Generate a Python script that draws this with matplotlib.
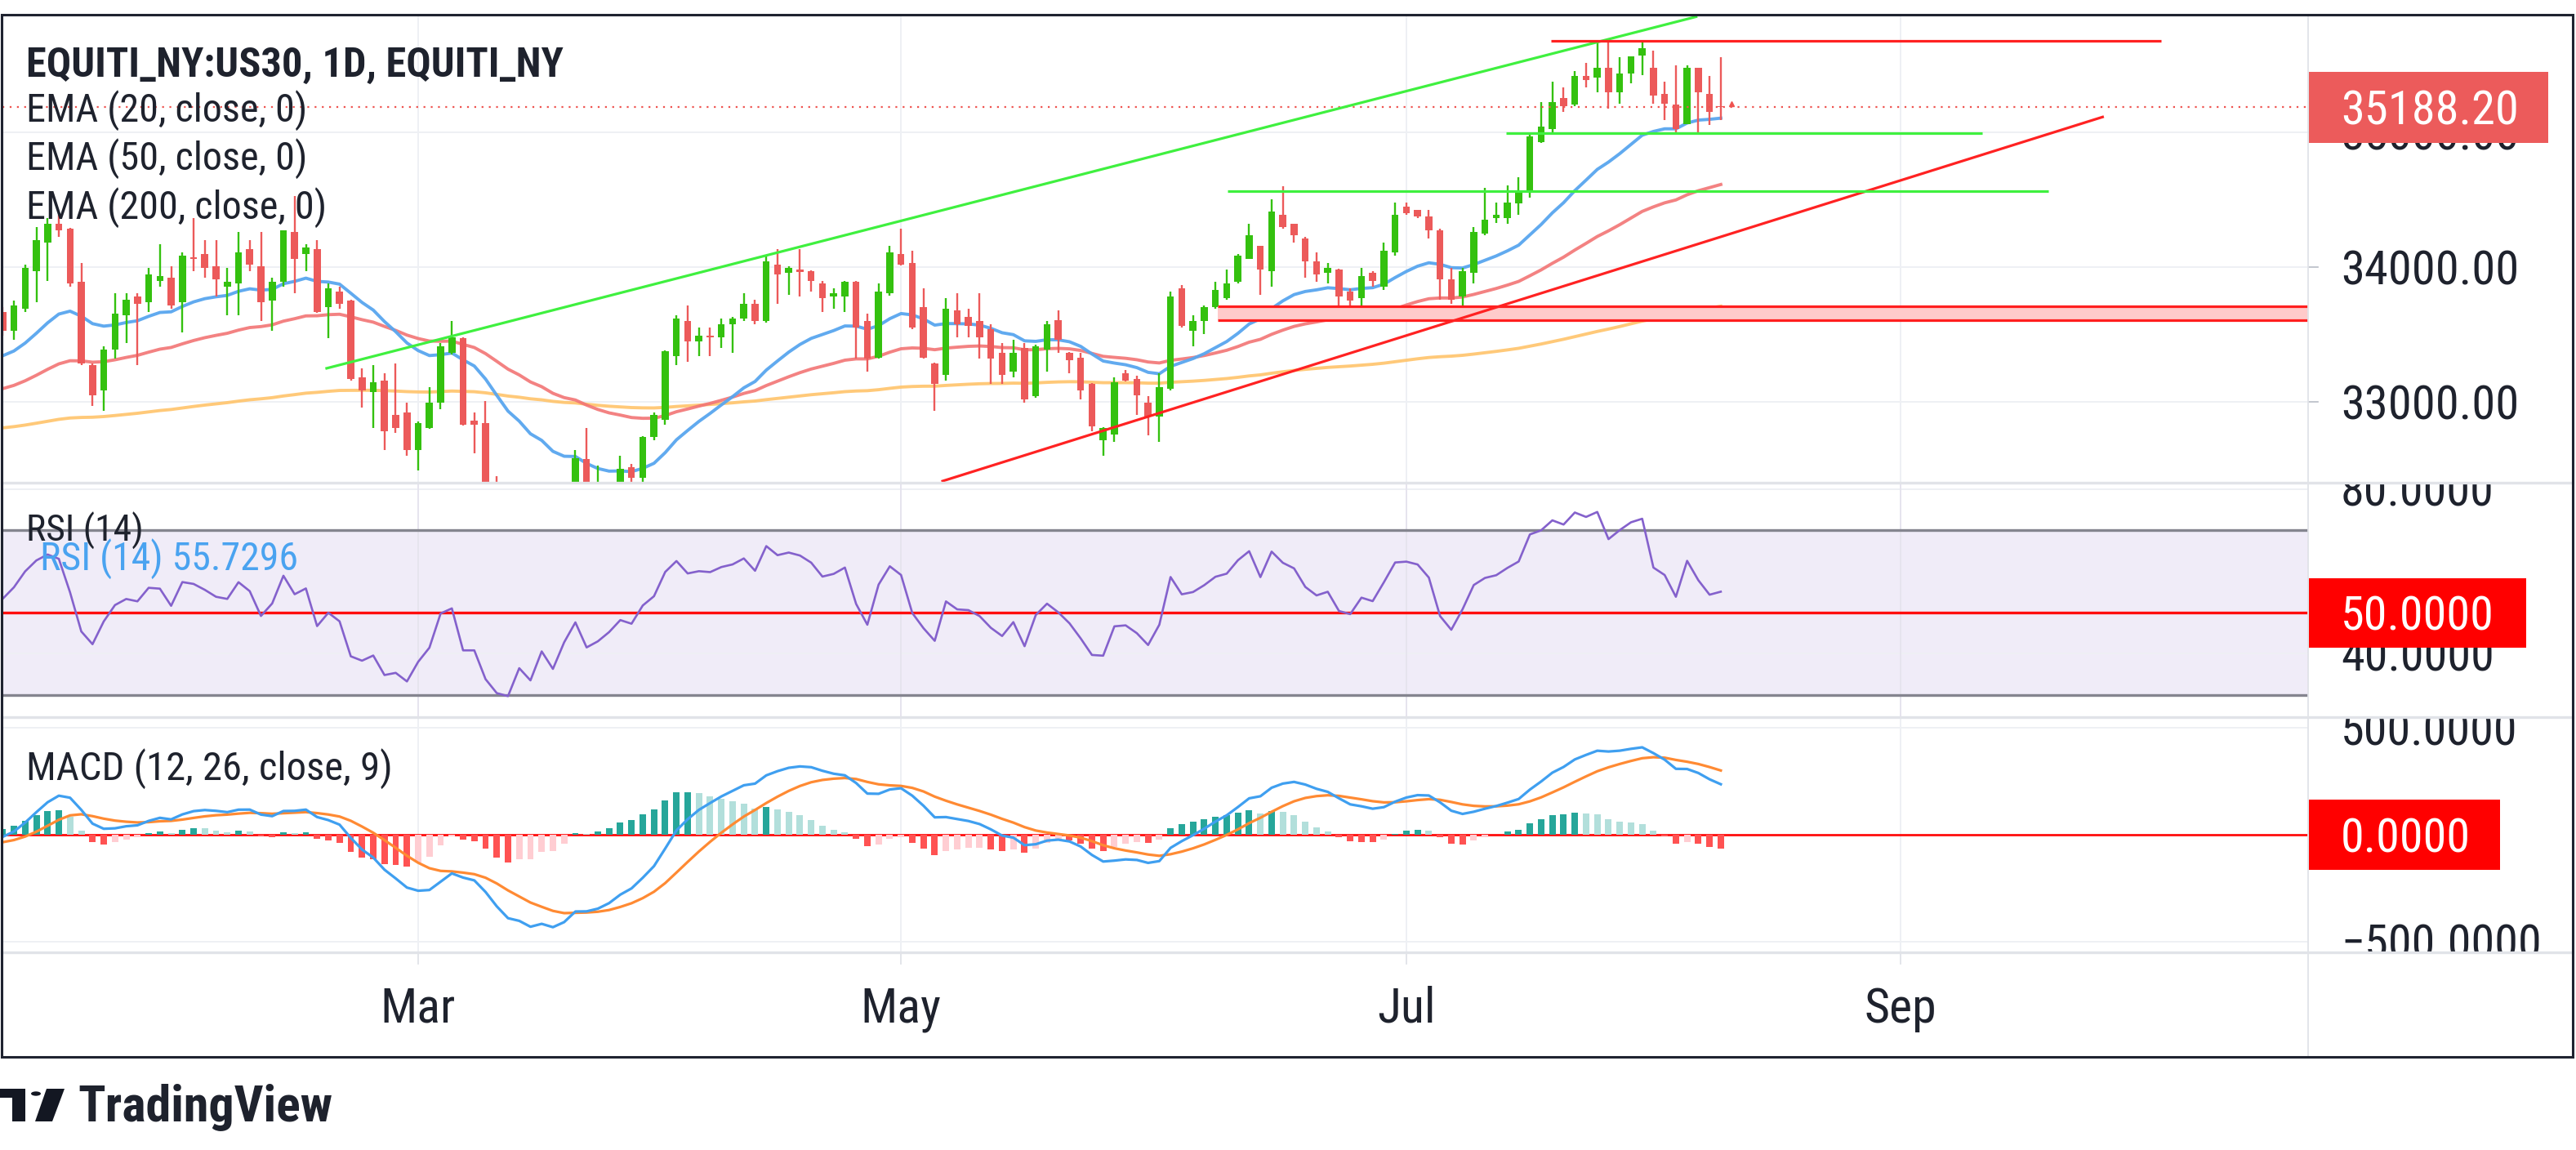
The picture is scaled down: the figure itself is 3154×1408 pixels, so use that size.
import os
import numpy as np
import pandas as pd
import matplotlib
matplotlib.use("Agg")
import matplotlib.pyplot as plt
from matplotlib.patches import Rectangle, Polygon, Circle
from matplotlib.lines import Line2D
from matplotlib import font_manager as fm
from matplotlib.font_manager import FontProperties

# ---------------------------------------------------------------- data
start_date = "2023-01-09"

opens = [
    33667, 33528, 33691, 33970, 34179, 34319, 34284, 33888, 33272, 33086,
    33388, 33644, 33784, 33737, 33900, 33923, 33737, 34074, 34098, 34005,
    33853, 33877, 34132, 34005, 33749, 33888, 34260, 34098, 34132, 33702,
    33819, 33749, 33179, 33074, 33156, 32900, 32923, 32644, 32807, 32993,
    33365, 33470, 32860, 32842, 32260, 31900, 31850, 32100, 31870, 32250,
    31900, 32250, 32575, 32050, 32150, 32300, 32516, 32435, 32737, 32865,
    33342, 33598, 33447, 33493, 33481, 33574, 33621, 33726, 33598, 34016,
    33958, 33981, 33970, 33877, 33784, 33784, 33888, 33598, 33330, 33807,
    34098, 34028, 33702, 33284, 33202, 33679, 33632, 33598, 33540, 33365,
    33226, 33400, 33040, 33388, 33609, 33365, 33330, 33133, 32714, 32760,
    33214, 33167, 32993, 32888, 33098, 33842, 33528, 33598, 33702, 33772,
    33888, 34063, 34156, 33970, 34388, 34319, 34214, 34040, 33958, 33981,
    33819, 33772, 33958, 33853, 34109, 34446, 34423, 34377, 34272, 33912,
    33784, 33958, 34249, 34365, 34365, 34470, 34563, 34930, 35024, 35255,
    35206, 35418, 35406, 35479, 35297, 35436, 35570, 35479, 35285, 35206,
    35061, 35479, 35285, 35194]

highs = [
    33702, 33749, 34016, 34295, 34365, 34388, 34290, 34028, 33284, 33412,
    33807, 33807, 33807, 33993, 34167, 34005, 34109, 34365, 34202, 34202,
    33993, 34260, 34202, 34260, 33923, 34272, 34528, 34167, 34202, 33877,
    33853, 33760, 33249, 33272, 33214, 33284, 32993, 32853, 33109, 33435,
    33598, 33481, 32923, 33005, 32450, 32300, 32360, 32150, 32300, 32300,
    32300, 32640, 32807, 32530, 32400, 32600, 32540, 32745, 32923, 33380,
    33644, 33714, 33551, 33551, 33621, 33633, 33807, 33760, 34086, 34132,
    34005, 34132, 33975, 33900, 33842, 33900, 33895, 33656, 33877, 34156,
    34284, 34121, 33842, 33290, 33772, 33807, 33691, 33807, 33574, 33435,
    33458, 33435, 33423, 33598, 33679, 33370, 33365, 33140, 32810, 33179,
    33237, 33191, 33040, 33214, 33819, 33865, 33644, 33714, 33888, 33981,
    34098, 34319, 34160, 34505, 34598, 34320, 34226, 34109, 34028, 33990,
    33842, 33993, 33970, 34179, 34481, 34481, 34425, 34423, 34284, 33993,
    33993, 34295, 34586, 34481, 34609, 34667, 34993, 35224, 35376, 35333,
    35455, 35515, 35667, 35679, 35558, 35564, 35670, 35606, 35376, 35497,
    35497, 35479, 35418, 35558]

lows = [
    33493, 33458, 33667, 33737, 33900, 34226, 33853, 33272, 32970, 32935,
    33319, 33435, 33272, 33667, 33853, 33691, 33516, 33970, 33923, 33784,
    33644, 33644, 33970, 33598, 33528, 33853, 33807, 33970, 33660, 33470,
    33691, 33156, 32958, 32807, 32644, 32772, 32598, 32493, 32800, 32946,
    33353, 32825, 32621, 32200, 31850, 31450, 31800, 31450, 31650, 31750,
    31850, 32200, 32000, 31800, 31900, 32250, 32300, 32400, 32714, 32830,
    33272, 33295, 33342, 33342, 33400, 33365, 33598, 33574, 33586, 33726,
    33795, 33784, 33819, 33667, 33691, 33667, 33319, 33225, 33319, 33790,
    34010, 33540, 33320, 32935, 33156, 33481, 33481, 33319, 33133, 33133,
    33179, 32993, 33028, 33226, 33365, 33214, 33016, 32784, 32598, 32702,
    33149, 32900, 32749, 32702, 33086, 33551, 33412, 33505, 33691, 33760,
    33877, 34060, 33795, 33853, 34284, 34179, 33923, 33888, 33877, 33621,
    33609, 33656, 33853, 33830, 34086, 34388, 34365, 34214, 33760, 33726,
    33609, 33877, 34237, 34330, 34319, 34388, 34516, 34920, 34994, 35152,
    35194, 35333, 35297, 35176, 35212, 35364, 35424, 35212, 35091, 35000,
    35061, 34994, 35055, 35091]

closes = [
    33528, 33714, 33993, 34202, 34319, 34272, 33877, 33284, 33051, 33388,
    33656, 33760, 33726, 33946, 33935, 33714, 34086, 34063, 33993, 33912,
    33888, 34109, 34016, 33737, 33888, 34272, 34063, 34144, 33667, 33842,
    33726, 33167, 33086, 33144, 32784, 32807, 32644, 32842, 32993, 33412,
    33481, 32830, 32830, 32250, 31900, 31820, 32150, 31870, 32250, 31860,
    32250, 32580, 32050, 32150, 32300, 32500, 32435, 32737, 32900, 33377,
    33621, 33447, 33493, 33481, 33574, 33621, 33726, 33598, 34040, 33946,
    33993, 33965, 33900, 33772, 33807, 33888, 33551, 33319, 33819, 34109,
    34016, 33551, 33330, 33133, 33691, 33574, 33563, 33481, 33319, 33202,
    33365, 33016, 33412, 33574, 33458, 33307, 33086, 32819, 32807, 33144,
    33156, 33051, 32888, 33109, 33784, 33563, 33598, 33702, 33830, 33877,
    34086, 34237, 33981, 34412, 34295, 34237, 34040, 33946, 33993, 33784,
    33749, 33935, 33900, 34121, 34388, 34400, 34377, 34272, 33912, 33760,
    33970, 34260, 34353, 34388, 34481, 34563, 34970, 35042, 35224, 35194,
    35418, 35388, 35479, 35297, 35436, 35564, 35624, 35273, 35212, 35024,
    35479, 35297, 35152, 35188.2]

last_price = 35188.20
rsi_legend_value = "55.7296"

ema20_seed, ema50_seed, ema200_seed = 33342, 33098, 32807
macd_fast_seed, macd_slow_seed, macd_signal_seed = 33410, 33420, -35
rsi_gain_seed, rsi_loss_seed = 120, 105

# drawings (bar position, price)
channel_x, channel_y = [28.85, 150.8], [33249, 35858]
rising_x, rising_y = [83.7, 187.0], [32412, 35114]
top_level, top_span = 35679, [137.9, 192.2]
support_a, support_a_span = 34995, [133.9, 176.3]
support_b, support_b_span = 34563, [109.1, 182.2]
zone_lo, zone_hi, zone_start = 33609, 33709, 108.2

month_labels = ["Mar", "May", "Jul", "Sep"]
month_dates = ["2023-03-01", "2023-05-01", "2023-07-03", "2023-09-01"]
price_ticks = [33000, 34000, 35000]
rsi_ticks = [80, 40]
macd_ticks = [500, -500]

# ---------------------------------------------------------------- indicators
o = np.array(opens, float); h = np.array(highs, float)
l = np.array(lows, float); c = np.array(closes, float)
n = len(c)
x = np.arange(n)


def ema(v, seed, span):
    a = 2.0 / (span + 1)
    out = np.empty(len(v)); out[0] = seed
    for k in range(1, len(v)):
        out[k] = out[k - 1] + a * (v[k] - out[k - 1])
    return out


ema20 = ema(c, ema20_seed, 20)
ema50 = ema(c, ema50_seed, 50)
ema200 = ema(c, ema200_seed, 200)
macd = ema(c, macd_fast_seed, 12) - ema(c, macd_slow_seed, 26)
signal = ema(macd, macd_signal_seed, 9)
hist = macd - signal

rsi = np.empty(n)
g, lo_ = rsi_gain_seed, rsi_loss_seed
rsi[0] = 100 * g / (g + lo_)
for k in range(1, n):
    d = c[k] - c[k - 1]
    g = (g * 13 + max(d, 0)) / 14
    lo_ = (lo_ * 13 + max(-d, 0)) / 14
    rsi[k] = 100 * g / (g + lo_)

dates = pd.bdate_range(start_date, "2023-12-31")
month_pos = [int(np.searchsorted(dates, pd.Timestamp(d))) for d in month_dates]

# ---------------------------------------------------------------- figure
W, H, DPI = 3154, 1408, 100
fig = plt.figure(figsize=(W / DPI, H / DPI), dpi=DPI, facecolor="white")
R = fig.canvas.get_renderer()

PL, PR = 3, 2826
AX_R = 3148
P_TOP, P_BOT = 19, 590
R_TOP, R_BOT = 593, 877
M_TOP, M_BOT = 880, 1165
XLIM = (-0.02, 205.3)
P_LIM = (32406, 35867)
R_LIM = (24.85, 81.09)
M_LIM = (-546, 542)

GRID = "#eef0f4"
SEP = "#e1e3e8"
TXT = "#1e222d"


def px_axes(x0, y0, x1, y1, z=1):
    ax = fig.add_axes([x0 / W, 1 - y1 / H, (x1 - x0) / W, (y1 - y0) / H], zorder=z)
    ax.set_axis_off()
    return ax


_files = {}
for _f in fm.fontManager.ttflist:
    _files.setdefault(os.path.basename(_f.fname).lower(), _f.fname)


def pick(cands, weight):
    for cnd in cands:
        if cnd.lower() in _files:
            return FontProperties(fname=_files[cnd.lower()])
    return FontProperties(family="DejaVu Sans", weight=weight)


FP = pick(["NotoSans-SemiCondensed.ttf", "OpenSans-SemiCondensed.ttf",
           "OpenSans_SemiCondensed-Regular.ttf", "RobotoCondensed-Regular.ttf",
           "DejaVuSansCondensed.ttf", "OpenSans-Regular.ttf", "NotoSans-Regular.ttf",
           "Roboto-Regular.ttf", "LiberationSans-Regular.ttf"], "normal")
FPB = pick(["NotoSans-SemiCondensedSemiBold.ttf", "NotoSans-SemiCondensedBold.ttf",
            "OpenSans_SemiCondensed-SemiBold.ttf", "OpenSans-SemiCondensedSemiBold.ttf",
            "RobotoCondensed-Bold.ttf", "DejaVuSansCondensed-Bold.ttf",
            "OpenSans-SemiBold.ttf", "NotoSans-SemiBold.ttf", "OpenSans-Bold.ttf",
            "NotoSans-Bold.ttf", "Roboto-Bold.ttf", "LiberationSans-Bold.ttf"], "bold")


def size_for(s, width, fp):
    f = fp.copy(); f.set_size(40)
    t = fig.text(0, 0, s, fontproperties=f)
    w = t.get_window_extent(R).width
    t.remove()
    return 40.0 * width / w


def put(xp, yp, s, size, fp, color=TXT, ha="left", ax=None, z=6):
    f = fp.copy(); f.set_size(size)
    X, Y = xp / W, 1 - yp / H
    if ax is None:
        return fig.text(X, Y, s, fontproperties=f, color=color, ha=ha,
                        va="baseline", zorder=z)
    return ax.text(X, Y, s, transform=fig.transFigure, fontproperties=f,
                   color=color, ha=ha, va="baseline", clip_on=True, zorder=z)


def ypx(v, lim, top, bot):
    return top + (lim[1] - v) / (lim[1] - lim[0]) * (bot - top)


def xpx(p):
    return PL + (p - XLIM[0]) / (XLIM[1] - XLIM[0]) * (PR - PL)


# ---------------------------------------------------------------- price pane
axp = px_axes(PL, P_TOP, PR, P_BOT, z=2)
axp.set_xlim(XLIM); axp.set_ylim(P_LIM)
for v in price_ticks:
    axp.axhline(v, color=GRID, lw=1.4, zorder=0)
for m in month_pos:
    axp.axvline(m, color=GRID, lw=1.4, zorder=0)

axp.plot(x, ema200, color="#ffc46b", lw=2.8, alpha=0.9, zorder=1)
axp.plot(x, ema50, color="#f27474", lw=2.8, alpha=0.9, zorder=1)
axp.plot(x, ema20, color="#58a6ef", lw=2.8, alpha=0.95, zorder=1)

up = c >= o
GREEN_C, RED_C = "#34c10f", "#ec5a5a"
cols = np.where(up, GREEN_C, RED_C)
axp.vlines(x, l, h, colors=cols, lw=1.7, zorder=3)
body_lo = np.minimum(o, c)
body_h = np.maximum(np.abs(c - o), 9)
axp.bar(x, body_h, bottom=body_lo, width=0.62, color=cols, lw=0, zorder=4)
axp.plot([x[-1] + 0.95], [last_price + 25], marker="^", ms=5, color="#ef5350",
         lw=0, zorder=5)

# drawings
axp.add_patch(Rectangle((zone_start, zone_lo), XLIM[1] - zone_start, zone_hi - zone_lo,
                        facecolor="#ffcaca", edgecolor="none", zorder=5))
axp.hlines([zone_lo, zone_hi], zone_start, XLIM[1], colors="#ff1f1f", lw=2.3, zorder=6)
axp.plot(channel_x, channel_y, color="#3ff03f", lw=2.3, zorder=6)
axp.plot(rising_x, rising_y, color="#ff2222", lw=2.3, zorder=6)
axp.hlines(top_level, *top_span, colors="#ff2222", lw=2.3, zorder=6)
axp.hlines(support_a, *support_a_span, colors="#3ff03f", lw=2.3, zorder=6)
axp.hlines(support_b, *support_b_span, colors="#3ff03f", lw=2.3, zorder=6)
axp.axhline(last_price, color="#ef5350", lw=1.6, ls=(0, (1.0, 3.0)), zorder=5)

# ---------------------------------------------------------------- RSI pane
axr = px_axes(PL, R_TOP, PR, R_BOT, z=2)
axr.set_xlim(XLIM); axr.set_ylim(R_LIM)
axr.axhspan(30, 70, color="#f0ecf8", lw=0, zorder=0)
for v in rsi_ticks:
    axr.axhline(v, color=GRID, lw=1.4, zorder=0.5)
for m in month_pos:
    axr.axvline(m, color="#e6e4ee", lw=1.4, zorder=0.5)
axr.axhline(70, color="#85858f", lw=2.4, zorder=1)
axr.axhline(30, color="#85858f", lw=2.4, zorder=1)
axr.axhline(50, color="#ff0d0d", lw=2.4, zorder=1)
axr.plot(x, rsi, color="#8461cc", lw=1.9, zorder=3)

# ---------------------------------------------------------------- MACD pane
axm = px_axes(PL, M_TOP, PR, M_BOT, z=2)
axm.set_xlim(XLIM); axm.set_ylim(M_LIM)
for v in macd_ticks:
    axm.axhline(v, color=GRID, lw=1.4, zorder=0)
for m in month_pos:
    axm.axvline(m, color=GRID, lw=1.4, zorder=0)
axm.axhline(0, color="#ff0d0d", lw=2.0, zorder=1)
prev = np.concatenate([[hist[0]], hist[:-1]])
hcol = np.where(hist >= 0, np.where(hist >= prev, "#26a69a", "#b2dfdb"),
                np.where(hist <= prev, "#ff5252", "#ffcdd2"))
axm.bar(x, hist, width=0.58, color=hcol, lw=0, zorder=2)
axm.plot(x, signal, color="#ff8a33", lw=2.3, zorder=3)
axm.plot(x, macd, color="#3f9ff0", lw=2.3, zorder=4)

# ---------------------------------------------------------------- frame / separators
for yy in (591, 878, 1166):
    fig.add_artist(Line2D([2 / W, 3150 / W], [1 - yy / H] * 2, color=SEP, lw=2.4, zorder=8))
fig.add_artist(Line2D([PR / W] * 2, [1 - 18 / H, 1 - 1294 / H], color=SEP, lw=1.3, zorder=8))
for m in month_pos:
    fig.add_artist(Line2D([xpx(m) / W] * 2, [1 - 1166 / H, 1 - 1180 / H], color=SEP, lw=1.3))
fig.add_artist(Rectangle((2 / W, 1 - 1294 / H), 3148 / W, 1276 / H, transform=fig.transFigure,
                         fill=False, ec="#1f2330", lw=2.2, zorder=10))

# ---------------------------------------------------------------- right axis labels
LX = 2866
s_lab = size_for("34000.00", 217, FP)
cap = s_lab * DPI / 72 * 0.36

axpl = px_axes(PR + 1, P_TOP, AX_R, P_BOT, z=3)
for v in price_ticks:
    yy = ypx(v, P_LIM, P_TOP, P_BOT)
    put(LX, yy + cap, f"{v:.2f}", s_lab, FP, ax=axpl)
    fig.add_artist(Line2D([PR / W, 2838 / W], [1 - yy / H] * 2, color="#b8bcc6", lw=1.2))
yy = ypx(last_price, P_LIM, P_TOP, P_BOT)
axpl.add_patch(Rectangle((2824 / W, 1 - (yy + 44) / H), 296 / W, 87 / H,
                         transform=fig.transFigure, facecolor="#ec5b5b", ec="none", zorder=7))
put(LX, yy + cap, f"{last_price:.2f}", s_lab, FP, color="white", ax=axpl, z=8)

s_r = size_for("80.0000", 187, FP)
axrl = px_axes(PR + 1, R_TOP, AX_R, R_BOT, z=3)
for v in rsi_ticks:
    yy = ypx(v, R_LIM, R_TOP, R_BOT)
    put(LX, yy + cap, f"{v:.4f}", s_r, FP, ax=axrl)
yy = ypx(50, R_LIM, R_TOP, R_BOT)
axrl.add_patch(Rectangle((2824 / W, 1 - (yy + 43) / H), 269 / W, 85 / H,
                         transform=fig.transFigure, facecolor="#ff0000", ec="none", zorder=7))
put(LX, yy + cap, "50.0000", s_r, FP, color="white", ax=axrl, z=8)

axml = px_axes(PR + 1, M_TOP, AX_R, M_BOT, z=3)
for v in macd_ticks:
    yy = ypx(v, M_LIM, M_TOP, M_BOT)
    put(LX, yy + cap, f"{v:.4f}".replace("-", "\u2212"), s_r, FP, ax=axml)
yy = ypx(0, M_LIM, M_TOP, M_BOT)
axml.add_patch(Rectangle((2824 / W, 1 - (yy + 43) / H), 237 / W, 86 / H,
                         transform=fig.transFigure, facecolor="#ff0000", ec="none", zorder=7))
put(LX, yy + cap, "0.0000", s_r, FP, color="white", ax=axml, z=8)

# ---------------------------------------------------------------- time axis
s_t = size_for("Mar", 92, FP)
for lab, m in zip(month_labels, month_pos):
    put(xpx(m), 1252, lab, s_t, FP, ha="center")

# ---------------------------------------------------------------- legends
put(32, 94, "EQUITI_NY:US30, 1D, EQUITI_NY",
    size_for("EQUITI_NY:US30, 1D, EQUITI_NY", 656, FPB), FPB)
s_e = size_for("EMA (20, close, 0)", 343, FP)
put(32, 149, "EMA (20, close, 0)", s_e, FP)
put(32, 208, "EMA (50, close, 0)", s_e, FP)
put(32, 268, "EMA (200, close, 0)", s_e, FP)
put(32, 663, "RSI (14)", size_for("RSI (14)", 143, FP), FP)
put(49, 698, "RSI (14) " + rsi_legend_value,
    size_for("RSI (14) " + rsi_legend_value, 316, FP), FP, color="#4aa3f0")
put(32, 955, "MACD (12, 26, close, 9)", size_for("MACD (12, 26, close, 9)", 448, FP), FP)

# TradingView mark
put(95, 1373, "TradingView", size_for("TradingView", 312, FPB), FPB)
logo = "#131722"
fig.add_artist(Rectangle((0 / W, 1 - 1344 / H), 31 / W, 11 / H, transform=fig.transFigure,
                         facecolor=logo, ec="none"))
fig.add_artist(Rectangle((15 / W, 1 - 1373 / H), 16 / W, 40 / H, transform=fig.transFigure,
                         facecolor=logo, ec="none"))
fig.add_artist(Circle((44 / W, 1 - 1339 / H), 6 / W, transform=fig.transFigure,
                      facecolor=logo, ec="none"))
fig.add_artist(Polygon([(57 / W, 1 - 1333 / H), (79 / W, 1 - 1333 / H),
                        (64 / W, 1 - 1373 / H), (43 / W, 1 - 1373 / H)],
                       closed=True, transform=fig.transFigure, facecolor=logo, ec="none"))

fig.savefig("out.png", dpi=DPI, facecolor="white")
